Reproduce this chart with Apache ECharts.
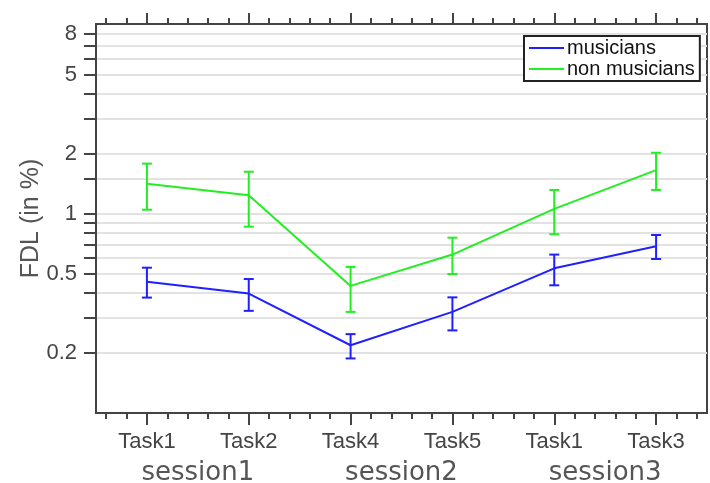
<!DOCTYPE html>
<html>
<head>
<meta charset="utf-8">
<style>
  html, body { margin: 0; padding: 0; background: #fff; }
  #chart { width: 710px; height: 483px; }
</style>
<script src="https://cdn.jsdelivr.net/npm/echarts@6/dist/echarts.min.js"></script>
</head>
<body>
<div id="chart"></div>
<script>
// Tasks in presentation order, grouped by session
const tasks = ['Task1', 'Task2', 'Task4', 'Task5', 'Task1', 'Task3'];
const sessions = ['session1', 'session2', 'session3'];

// FDL (%) means with lower / upper error limits
const musicians      = [0.457, 0.398, 0.219, 0.322, 0.533, 0.688];
const musiciansLow   = [0.380, 0.326, 0.188, 0.260, 0.438, 0.594];
const musiciansHigh  = [0.537, 0.471, 0.249, 0.381, 0.625, 0.784];
const nonMusicians     = [1.42, 1.24, 0.435, 0.625, 1.06, 1.66];
const nonMusiciansLow  = [1.05, 0.863, 0.322, 0.499, 0.791, 1.32];
const nonMusiciansHigh = [1.79, 1.63, 0.542, 0.760, 1.32, 2.03];

// Log axis tick values
const yLabelValues = [0.2, 0.5, 1, 2, 5, 8];
const yTickValues = [0.2, 0.3, 0.4, 0.5, 0.6, 0.7, 0.8, 0.9, 1, 1.5, 2, 3, 4, 5, 6, 7, 8];

const minorPerTask = 5;
const minorSlots = Array.from({ length: tasks.length * minorPerTask }, () => '');

const AXIS = '#444';
const BLUE = '#2020ff';
const GREEN = '#22ee22';

function errorBars(low, high, color) {
  return {
    type: 'custom',
    xAxisIndex: 0,
    yAxisIndex: 0,
    z: 3,
    data: low.map((lo, i) => [i, lo, high[i]]),
    renderItem(params, api) {
      const x = api.value(0);
      const pLo = api.coord([x, api.value(1)]);
      const pHi = api.coord([x, api.value(2)]);
      const w = 5;
      const style = { stroke: color, lineWidth: 2, fill: null };
      return {
        type: 'group',
        children: [
          { type: 'line', shape: { x1: pLo[0], y1: pLo[1], x2: pHi[0], y2: pHi[1] }, style },
          { type: 'line', shape: { x1: pHi[0] - w, y1: pHi[1], x2: pHi[0] + w, y2: pHi[1] }, style },
          { type: 'line', shape: { x1: pLo[0] - w, y1: pLo[1], x2: pLo[0] + w, y2: pLo[1] }, style }
        ]
      };
    }
  };
}

const hiddenCat = (data, position, tickLen) => ({
  type: 'category',
  position,
  data,
  boundaryGap: true,
  axisLine: { show: false },
  axisTick: { show: true, alignWithLabel: true, inside: false, length: tickLen, lineStyle: { color: AXIS, width: 2 } },
  axisLabel: { show: false },
  splitLine: { show: false }
});

const chart = echarts.init(document.getElementById('chart'), null, { renderer: 'canvas' });

chart.setOption({
  animation: false,
  backgroundColor: '#fff',
  grid: {
    left: 96, top: 24, right: 3, bottom: 70,
    outerBoundsMode: 'none',
    containLabel: false,
    show: true, borderColor: AXIS, borderWidth: 2, backgroundColor: 'transparent'
  },
  legend: {
    data: [
      { name: 'musicians', icon: 'rect' },
      { name: 'non musicians', icon: 'rect' }
    ],
    orient: 'vertical',
    left: 524, top: 36,
    backgroundColor: '#fff',
    borderColor: '#222', borderWidth: 2,
    padding: [2, 5, 2, 5],
    itemGap: 1,
    itemWidth: 35, itemHeight: 2,
    textStyle: { fontFamily: 'Liberation Sans', fontSize: 20, color: '#111', lineHeight: 19, padding: [0, 0, 0, -2] }
  },
  xAxis: [
    {
      type: 'category',
      position: 'bottom',
      data: tasks,
      boundaryGap: true,
      axisLine: { show: true, lineStyle: { color: AXIS, width: 2 } },
      axisTick: { show: true, alignWithLabel: true, length: 12, lineStyle: { color: AXIS, width: 2 } },
      axisLabel: { show: true, margin: 18, fontFamily: 'Liberation Sans', fontSize: 22, color: '#444' },
      splitLine: { show: false }
    },
    hiddenCat(minorSlots, 'bottom', 6),
    hiddenCat(tasks, 'top', 11),
    hiddenCat(minorSlots, 'top', 6),
    {
      type: 'category',
      position: 'bottom',
      offset: 43,
      data: sessions,
      boundaryGap: true,
      axisLine: { show: false },
      axisTick: { show: false },
      axisLabel: { show: true, margin: 4, fontFamily: 'DejaVu Sans', fontSize: 26, color: '#555' },
      splitLine: { show: false }
    }
  ],
  yAxis: {
    type: 'log',
    logBase: 10,
    min: 0.1,
    max: 9,
    name: 'FDL (in %)',
    nameLocation: 'middle',
    nameGap: 52,
    nameMoveOverlap: false,
    nameTextStyle: { fontFamily: 'Liberation Sans', fontSize: 25, color: '#555' },
    axisLine: { show: true, lineStyle: { color: AXIS, width: 2 } },
    axisTick: { show: true, length: 12, customValues: yTickValues, lineStyle: { color: AXIS, width: 2 } },
    axisLabel: {
      show: true, margin: 19, customValues: yLabelValues,
      fontFamily: 'Liberation Sans', fontSize: 22, color: '#444',
      formatter: v => String(+v.toPrecision(3))
    },
    splitLine: { show: true, lineStyle: { color: '#e2e2e2', width: 2 } }
  },
  series: [
    {
      name: 'musicians',
      type: 'line',
      data: musicians,
      symbol: 'none',
      z: 4,
      color: BLUE,
      lineStyle: { color: BLUE, width: 2 }
    },
    {
      name: 'non musicians',
      type: 'line',
      data: nonMusicians,
      symbol: 'none',
      z: 4,
      color: GREEN,
      lineStyle: { color: GREEN, width: 2 }
    },
    Object.assign(errorBars(musiciansLow, musiciansHigh, BLUE), { name: 'musicians error' }),
    Object.assign(errorBars(nonMusiciansLow, nonMusiciansHigh, GREEN), { name: 'non musicians error' })
  ]
});
</script>
</body>
</html>
